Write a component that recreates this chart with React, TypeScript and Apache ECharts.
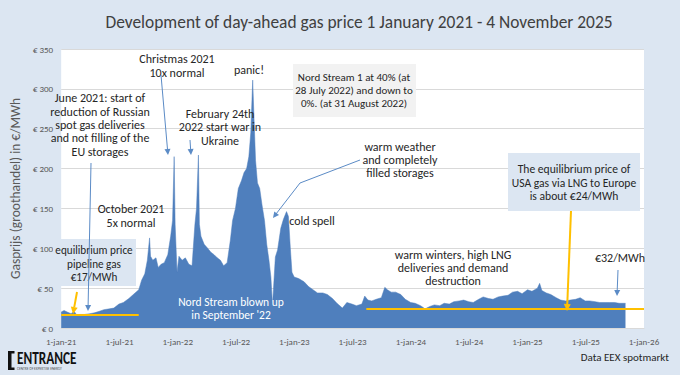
import React, { useEffect, useRef } from "react";
import * as echarts from "echarts";

const dates = [
  "2021-01-01","2021-01-10","2021-01-20","2021-02-01","2021-02-10","2021-02-20","2021-03-01","2021-03-15",
  "2021-04-01","2021-04-15","2021-05-01","2021-05-15","2021-06-01","2021-06-15","2021-07-01","2021-07-15",
  "2021-08-01","2021-08-15","2021-09-01","2021-09-10","2021-09-20","2021-09-28","2021-10-05","2021-10-08",
  "2021-10-15","2021-10-25","2021-11-01","2021-11-10","2021-11-20","2021-12-01","2021-12-10","2021-12-16",
  "2021-12-21","2021-12-24","2021-12-30","2022-01-05","2022-01-15","2022-01-25","2022-02-05","2022-02-15",
  "2022-02-24","2022-03-01","2022-03-07","2022-03-10","2022-03-15","2022-03-25","2022-04-05","2022-04-15",
  "2022-04-25","2022-05-05","2022-05-15","2022-05-25","2022-06-05","2022-06-15","2022-06-22","2022-07-01",
  "2022-07-10","2022-07-20","2022-07-28","2022-08-05","2022-08-12","2022-08-18","2022-08-24","2022-08-28",
  "2022-09-02","2022-09-08","2022-09-15","2022-09-22","2022-09-30","2022-10-07","2022-10-14","2022-10-20",
  "2022-10-25","2022-10-28","2022-11-03","2022-11-10","2022-11-20","2022-11-28","2022-12-08","2022-12-14",
  "2022-12-20","2022-12-25","2023-01-01","2023-01-15","2023-02-01","2023-02-15","2023-03-01","2023-03-15",
  "2023-04-01","2023-04-15","2023-05-01","2023-05-15","2023-06-01","2023-06-15","2023-07-01","2023-07-15",
  "2023-08-01","2023-08-10","2023-08-20","2023-09-01","2023-09-15","2023-10-01","2023-10-12","2023-10-20",
  "2023-11-01","2023-11-15","2023-12-01","2023-12-15","2024-01-01","2024-01-15","2024-02-01","2024-02-15",
  "2024-03-01","2024-03-15","2024-04-01","2024-04-15","2024-05-01","2024-05-15","2024-06-01","2024-06-15",
  "2024-07-01","2024-07-15","2024-08-01","2024-08-15","2024-09-01","2024-09-15","2024-10-01","2024-10-15",
  "2024-11-01","2024-11-15","2024-12-01","2024-12-15","2025-01-01","2025-01-15","2025-02-01","2025-02-08",
  "2025-02-15","2025-03-01","2025-03-15","2025-04-01","2025-04-15","2025-05-01","2025-05-15","2025-06-01",
  "2025-06-15","2025-07-01","2025-07-15","2025-08-01","2025-08-15","2025-09-01","2025-09-15","2025-10-01",
  "2025-10-15","2025-11-04"
];

const prices = [
  20, 22, 20, 18, 21, 16, 17, 17,
  18, 19, 21, 23, 24, 25, 30, 32,
  37, 42, 48, 60, 68, 85, 113, 90,
  85, 88, 76, 80, 82, 92, 115, 135,
  215, 130, 70, 90, 85, 88, 80, 78,
  130, 150, 217, 130, 115, 105, 100, 95,
  92, 88, 85, 78, 82, 110, 135, 150,
  175, 185, 195, 200, 215, 245, 311, 265,
  210, 182, 175, 155, 135, 105, 85, 64,
  29, 48, 89, 98, 125, 136, 146, 140,
  100, 70, 64, 62, 58, 52, 48, 44,
  44, 42, 37, 31, 25, 32, 30, 28,
  30, 40, 35, 34, 36, 38, 51, 48,
  45, 45, 42, 36, 32, 31, 28, 24,
  27, 29, 28, 31, 30, 33, 34, 35,
  33, 32, 36, 39, 37, 36, 39, 40,
  41, 45, 46, 43, 48, 46, 50, 56,
  47, 44, 42, 38, 35, 34, 35, 36,
  38, 34, 34, 33, 32, 32, 32, 32,
  31, 31
];

const xTickLabels = [
  "1-jan-21","1-jul-21","1-jan-22","1-jul-22","1-jan-23","1-jul-23",
  "1-jan-24","1-jul-24","1-jan-25","1-jul-25","1-jan-26"
];

const pipelineLine = { from: "2021-01-01", to: "2021-09-01", value: 17 };
const lngLine = { from: "2023-08-15", to: "2026-01-01", value: 24 };

const FONT = "Carlito, Lato, 'Open Sans', sans-serif";
const BLUE_ARROW = "#5b8bc6";
const ORANGE = "#ffc000";

function arrow(x1: number, y1: number, x2: number, y2: number, color: string, w: number, head = 6) {
  const ang = Math.atan2(y2 - y1, x2 - x1);
  const hw = head * 0.5;
  const bx = x2 - head * Math.cos(ang);
  const by = y2 - head * Math.sin(ang);
  const px = -Math.sin(ang) * hw;
  const py = Math.cos(ang) * hw;
  return [
    { type: "line", z: 110, shape: { x1, y1, x2: bx, y2: by }, style: { stroke: color, lineWidth: w } },
    { type: "polygon", z: 110, shape: { points: [[x2, y2], [bx + px, by + py], [bx - px, by - py]] }, style: { fill: color } },
  ];
}

function label(x: number, y: number, text: string, opts: any = {}) {
  return {
    type: "text",
    x,
    y,
    z: 100,
    style: {
      text,
      fontFamily: FONT,
      fontSize: opts.fontSize || 12,
      lineHeight: opts.lineHeight || 13.4,
      fill: opts.fill || "#262626",
      align: opts.align || "center",
      verticalAlign: "top",
      fontWeight: opts.fontWeight || "normal",
    },
  };
}

export default function App() {
  const ref = useRef<HTMLDivElement>(null);
  useEffect(() => {
    document.body.style.margin = "0";
    const chart = echarts.init(ref.current!, null, { renderer: "svg" });
    const data = dates.map((d, i) => [d, prices[i]]);

    const bentPts = [[360, 160], [300, 183], [276, 214]];
    const bentHead = arrow(300, 183, 273, 218, BLUE_ARROW, 1, 6);

    const graphic: any[] = [
      { type: "rect", z: 90, shape: { x: 293, y: 64, width: 123, height: 53 }, style: { fill: "#f2f2f2" } },
      { type: "rect", z: 90, shape: { x: 53, y: 239, width: 83, height: 47 }, style: { fill: "#dce6f2" } },
      { type: "rect", z: 90, shape: { x: 508, y: 153, width: 132, height: 58 }, style: { fill: "#dce6f2" } },
      label(177, 52, "Christmas 2021\n10x normal", { lineHeight: 14 }),
      label(249, 63, "panic!"),
      label(100, 91.5, "June 2021: start of\nreduction of Russian\nspot gas deliveries\nand not filling of the\nEU storages"),
      label(220, 107, "February 24th\n2022 start war in\nUkraine", { lineHeight: 13.5 }),
      label(131, 202, "October 2021\n5x normal", { lineHeight: 14 }),
      label(354, 71.5, "Nord Stream 1 at 40% (at\n28 July 2022) and down to\n0%. (at 31 August 2022)", { fontSize: 11, lineHeight: 12.8 }),
      label(400, 140.5, "warm weather\nand completely\nfilled storages", { lineHeight: 13 }),
      label(312, 214.5, "cold spell"),
      label(94, 243.5, "equilibrium price\npipeline gas\n€17/MWh", { fontSize: 11.2, lineHeight: 13.5 }),
      label(231, 296, "Nord Stream blown up\nin September '22", { fill: "#ffffff", fontSize: 11.5, lineHeight: 12.5 }),
      label(453, 248.5, "warm winters, high LNG\ndeliveries and demand\ndestruction", { lineHeight: 13 }),
      label(574, 162.5, "The equilibrium price of\nUSA gas via LNG to Europe\nis about €24/MWh", { fontSize: 11.6, lineHeight: 13.5 }),
      label(620, 251.5, "€32/MWh"),
      ...arrow(91, 163, 88, 311, BLUE_ARROW, 1),
      ...arrow(161, 75, 168, 155, BLUE_ARROW, 1),
      ...arrow(190, 140, 191, 155, BLUE_ARROW, 1),
      { type: "polyline", z: 110, shape: { points: bentPts }, style: { stroke: BLUE_ARROW, lineWidth: 1, fill: null } },
      bentHead[1],
      ...arrow(618, 270, 617, 296, BLUE_ARROW, 1),
      ...arrow(77, 292, 73, 314, ORANGE, 2, 7),
      ...arrow(571, 211, 567, 311, ORANGE, 2, 7),
      label(359, 12, "Development of day-ahead gas price 1 January 2021 - 4 November 2025", { fontSize: 17.4, fill: "#404040", lineHeight: 20 }),
      { type: "rect", shape: { x: 8, y: 351, width: 3.5, height: 19 }, style: { fill: "#111" } },
      { type: "rect", shape: { x: 8, y: 351, width: 6.5, height: 2.5 }, style: { fill: "#111" } },
      { type: "rect", shape: { x: 8, y: 367.5, width: 6.5, height: 2.5 }, style: { fill: "#111" } },
      {
        type: "text", x: 17, y: 349, scaleX: 0.78,
        style: { text: "ENTRANCE", fontFamily: FONT, fontSize: 17, fontWeight: "bold", fill: "#111", align: "left", verticalAlign: "top" },
      },
      {
        type: "text", x: 17, y: 366.5,
        style: { text: "CENTRE OF EXPERTISE ENERGY", fontFamily: FONT, fontSize: 3.6, fill: "#555", align: "left", verticalAlign: "top" },
      },
      label(669, 351, "Data EEX spotmarkt", { align: "right", fontSize: 11 }),
    ];

    chart.setOption({
      animation: false,
      backgroundColor: "#dce6f2",
      textStyle: { fontFamily: FONT },
      grid: { left: 54, right: 36, top: 49, bottom: 47, show: true, backgroundColor: "#ffffff", borderWidth: 0, containLabel: false },
      xAxis: [
        { type: "time", min: "2021-01-01", max: "2026-01-01", show: false, position: "bottom" },
        {
          type: "category", data: xTickLabels, boundaryGap: false, position: "bottom",
          axisTick: { show: false },
          axisLine: { show: true, lineStyle: { color: "#d9d9d9" } },
          axisLabel: { color: "#595959", fontSize: 9, margin: 9, interval: 0, fontFamily: FONT },
          splitLine: { show: false },
        },
      ],
      yAxis: {
        type: "value", min: 0, max: 350, interval: 50,
        axisLine: { show: false }, axisTick: { show: false },
        axisLabel: { formatter: "€ {value}", color: "#595959", fontSize: 9, margin: 8, fontFamily: FONT },
        splitLine: { lineStyle: { color: "#d9d9d9", width: 1 } },
        name: "Gasprijs (groothandel) in €/MWh",
        nameLocation: "middle", nameRotate: 90, nameGap: 29,
        nameTextStyle: { color: "#595959", fontSize: 13.5, fontFamily: FONT },
      },
      series: [
        {
          type: "line", xAxisIndex: 0, data, showSymbol: false, symbol: "none",
          lineStyle: { width: 0.5, color: "#4f7fbd" },
          areaStyle: { color: "#4f7fbd", opacity: 1 },
          markLine: {
            silent: true, symbol: "none", label: { show: false },
            lineStyle: { color: ORANGE, width: 2, type: "solid" },
            data: [
              [{ coord: [pipelineLine.from, pipelineLine.value] }, { coord: [pipelineLine.to, pipelineLine.value] }],
              [{ coord: [lngLine.from, lngLine.value] }, { coord: [lngLine.to, lngLine.value] }],
            ],
          },
        },
      ],
      graphic,
    });
    return () => chart.dispose();
  }, []);
  return <div ref={ref} style={{ width: 680, height: 375 }} />;
}
